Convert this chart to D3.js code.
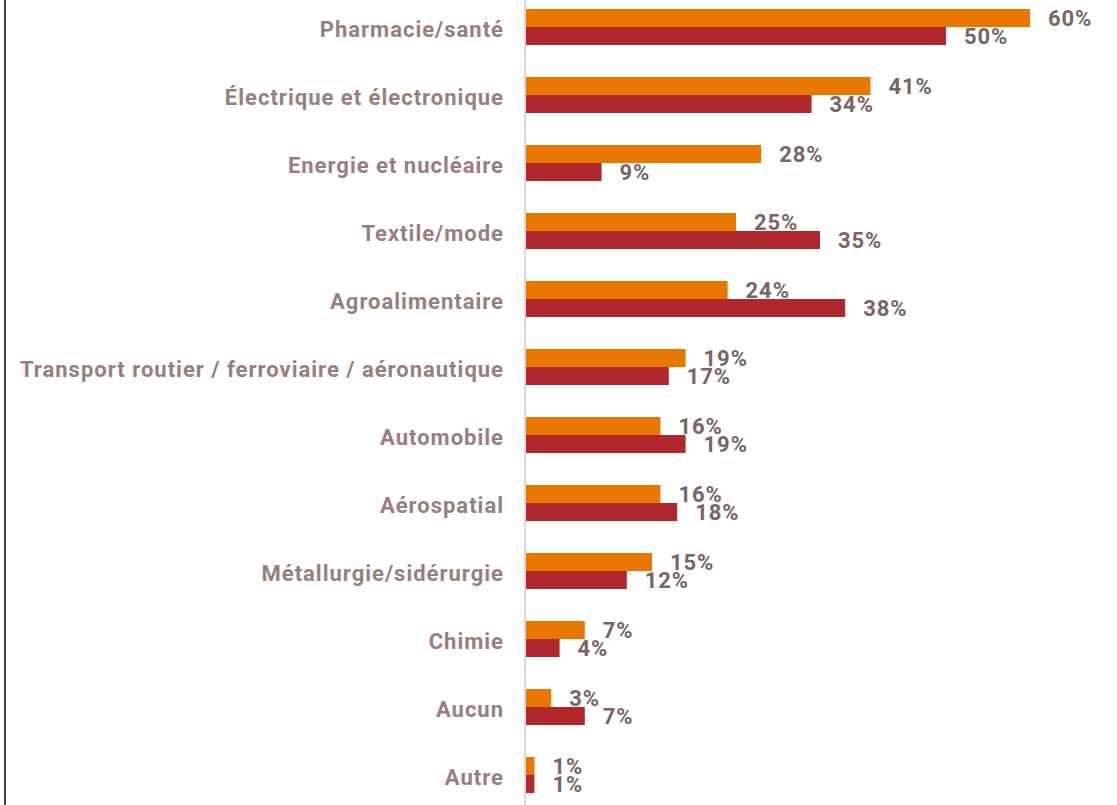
<!DOCTYPE html>
<html>
<head>
<meta charset="utf-8">
<script src="https://cdn.jsdelivr.net/npm/d3@7"></script>
<style>
  html, body { margin: 0; padding: 0; background: #ffffff; }
  svg { display: block; }
</style>
</head>
<body>
<svg id="chart" width="1117" height="805"></svg>
<script>
// Sectors, in display order (top to bottom)
const categories = [
  "Pharmacie/santé",
  "Électrique et électronique",
  "Energie et nucléaire",
  "Textile/mode",
  "Agroalimentaire",
  "Transport routier / ferroviaire / aéronautique",
  "Automobile",
  "Aérospatial",
  "Métallurgie/sidérurgie",
  "Chimie",
  "Aucun",
  "Autre"
];

// Share of respondents (%) — first series (orange bars)
const seriesOrange = [60, 41, 28, 25, 24, 19, 16, 16, 15, 7, 3, 1];
// Share of respondents (%) — second series (dark red bars)
const seriesRed = [50, 34, 9, 35, 38, 17, 19, 18, 12, 4, 7, 1];

const W = 1117, H = 805;
const svg = d3.select("#chart");

const x = d3.scaleLinear().domain([0, 60]).range([526, 1030]);
const y = d3.scalePoint().domain(categories).range([27, 775]);
const barH = 18;

const colOrange = "#E87700";
const colRed = "#B0282E";
const catColor = "#9A7E7E";
const valColor = "#7A6464";
const font = "Roboto, 'Liberation Sans', sans-serif";

// Left frame line
svg.append("line")
  .attr("x1", 5).attr("x2", 5).attr("y1", 0).attr("y2", H)
  .attr("stroke", "#4A3B3C").attr("stroke-width", 2);

// Bars
const g = svg.append("g");
g.selectAll("rect.orange")
  .data(categories)
  .join("rect")
  .attr("class", "orange")
  .attr("x", x(0))
  .attr("y", d => y(d) - barH)
  .attr("width", (d, i) => x(seriesOrange[i]) - x(0))
  .attr("height", barH)
  .attr("fill", colOrange);

g.selectAll("rect.red")
  .data(categories)
  .join("rect")
  .attr("class", "red")
  .attr("x", x(0))
  .attr("y", d => y(d))
  .attr("width", (d, i) => x(seriesRed[i]) - x(0))
  .attr("height", barH)
  .attr("fill", colRed);

// Category axis line
svg.append("line")
  .attr("x1", x(0) - 1).attr("x2", x(0) - 1).attr("y1", 0).attr("y2", H)
  .attr("stroke", "#D9D9D9").attr("stroke-width", 2);

// Category labels
const yAxis = d3.axisLeft(y).tickSize(0).tickPadding(0);
const axisG = svg.append("g")
  .attr("transform", `translate(${x(0) - 22},2)`)
  .call(yAxis);
axisG.select(".domain").remove();
axisG.selectAll("text")
  .attr("fill", catColor)
  .style("font-family", font)
  .style("font-weight", "700")
  .style("font-size", "22px")
  .style("letter-spacing", "1px");

// Value labels
const fmt = v => v + "%";
const labelStyle = sel => sel
  .attr("fill", valColor)
  .style("font-family", font)
  .style("font-weight", "700")
  .style("font-size", "22px")
  .style("letter-spacing", "0.9px");

g.selectAll("text.vo")
  .data(categories)
  .join("text")
  .attr("class", "vo")
  .attr("x", (d, i) => x(seriesOrange[i]) + 18)
  .attr("y", d => y(d) - barH / 2)
  .attr("dy", "0.36em")
  .text((d, i) => fmt(seriesOrange[i]))
  .call(labelStyle);

g.selectAll("text.vr")
  .data(categories)
  .join("text")
  .attr("class", "vr")
  .attr("x", (d, i) => x(seriesRed[i]) + 18)
  .attr("y", d => y(d) + barH / 2)
  .attr("dy", "0.36em")
  .text((d, i) => fmt(seriesRed[i]))
  .call(labelStyle);
</script>
</body>
</html>
